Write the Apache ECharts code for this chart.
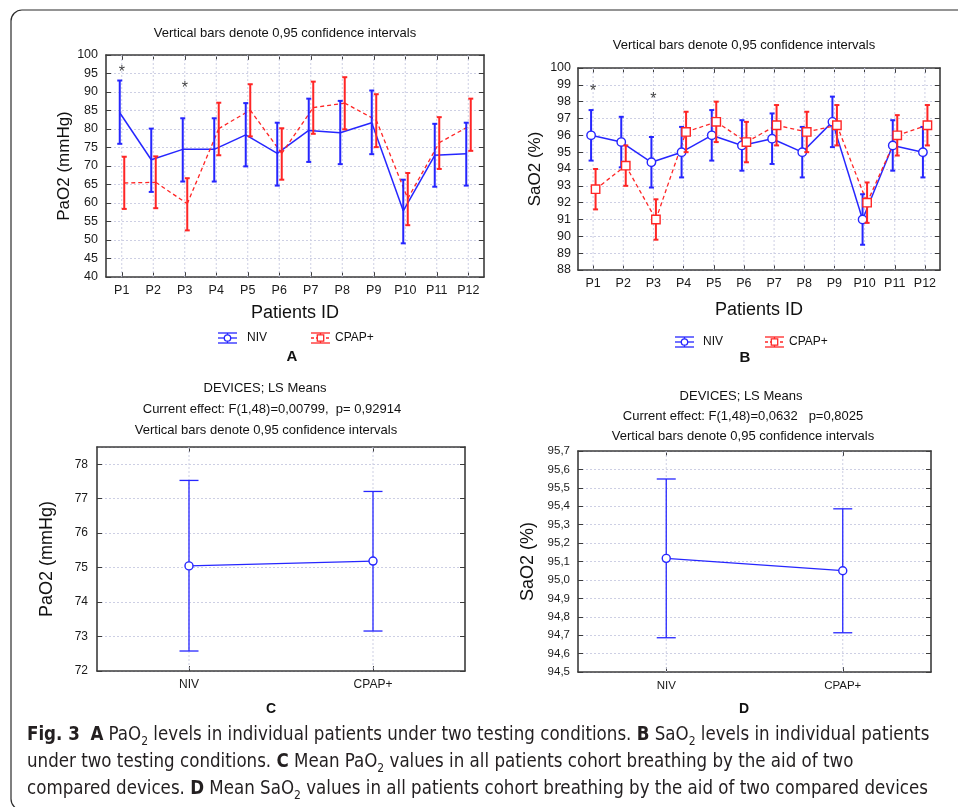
<!DOCTYPE html>
<html><head><meta charset="utf-8">
<script src="https://cdn.jsdelivr.net/npm/echarts@6/dist/echarts.min.js"></script>
<style>html,body{margin:0;padding:0;background:#fff}#c{width:958px;height:807px}</style>
</head><body><div id="c"></div>
<script>
// ---------------- DATA ----------------
const patients = ['P1','P2','P3','P4','P5','P6','P7','P8','P9','P10','P11','P12'];
const devices = ['NIV','CPAP+'];

const paoNivMean  = [84.4,71.7,74.5,74.5,78.4,73.4,79.6,79.0,81.7,57.9,72.9,73.3];
const paoNivLow   = [76.0,63.0,65.8,65.8,69.9,64.7,71.1,70.5,73.2,49.1,64.4,64.7];
const paoNivHigh  = [93.1,80.1,82.9,82.9,87.0,81.7,88.2,87.6,90.4,66.3,81.4,81.7];
const paoCpapMean = [65.4,65.6,59.8,80.1,85.1,73.4,85.8,87.0,82.4,61.2,76.3,81.0];
const paoCpapLow  = [58.4,58.6,52.6,72.9,78.0,66.3,78.7,79.9,75.1,54.0,69.2,74.1];
const paoCpapHigh = [72.5,72.6,66.7,87.1,92.1,80.2,92.8,94.0,89.4,68.1,83.2,88.2];

const saoNivMean  = [96.0,95.6,94.4,95.0,96.0,95.4,95.8,95.0,96.8,91.0,95.4,95.0];
const saoNivLow   = [94.5,94.1,92.9,93.5,94.5,93.9,94.3,93.5,95.3,89.5,93.9,93.5];
const saoNivHigh  = [97.5,97.1,95.9,96.5,97.5,96.9,97.3,96.5,98.3,92.5,96.9,96.5];
const saoCpapMean = [92.8,94.2,91.0,96.2,96.8,95.6,96.6,96.2,96.6,92.0,96.0,96.6];
const saoCpapLow  = [91.6,93.0,89.8,95.0,95.6,94.4,95.4,95.0,95.4,90.8,94.8,95.4];
const saoCpapHigh = [94.0,95.4,92.2,97.4,98.0,96.8,97.8,97.4,97.8,93.2,97.2,97.8];

const paoStars = [['P1',95.2],['P3',91.0]];
const saoStars = [['P1',98.6],['P3',98.1]];

const paoDevMean = [75.05,75.19];
const paoDevLow  = [72.58,73.16];
const paoDevHigh = [77.53,77.21];
const saoDevMean = [95.117,95.050];
const saoDevLow  = [94.686,94.713];
const saoDevHigh = [95.548,95.386];

// ---------------- STYLE ----------------
const BLUE = '#2626ff', RED = '#ff2626';
const FONT = "'Liberation Sans', Arial, sans-serif";
const FRAME = '#3c3c3c';
const GRIDC = '#cdcfe4';

function axesFor(g, cats, ymin, ymax, step, labFont, fmt, xMargin, yMargin, yName, yGap, xName, xGap, nameSize) {
  const common = {gridIndex:g};
  const xs = [
    Object.assign({}, common, {type:'category', data:cats, position:'bottom', boundaryGap:true,
      axisLine:{show:true, onZero:false, lineStyle:{color:FRAME, width:1.6}},
      axisTick:{show:true, inside:true, alignWithLabel:true, length:5, lineStyle:{color:FRAME, width:1}},
      axisLabel:{show:true, color:'#1a1a1a', fontFamily:FONT, fontSize:labFont, margin:xMargin},
      splitLine:{show:false},
      name:xName||'', nameLocation:'middle', nameGap:xGap||0,
      nameTextStyle:{fontFamily:FONT, fontSize:18, color:'#111'}}),
    Object.assign({}, common, {type:'category', data:cats, position:'top', boundaryGap:true,
      axisLine:{show:true, onZero:false, lineStyle:{color:FRAME, width:1.6}},
      axisTick:{show:true, inside:true, alignWithLabel:true, length:5, lineStyle:{color:FRAME, width:1}},
      axisLabel:{show:false}, splitLine:{show:false}})
  ];
  const ys = [
    Object.assign({}, common, {type:'value', min:ymin, max:ymax, interval:step, position:'left',
      axisLine:{show:true, onZero:false, lineStyle:{color:FRAME, width:1.6}},
      axisTick:{show:true, inside:true, length:5, lineStyle:{color:FRAME, width:1}},
      axisLabel:{show:true, color:'#1a1a1a', fontFamily:FONT, fontSize:labFont, margin:yMargin, formatter:fmt, showMaxLabel: fmt.hideMax ? false : null},
      splitLine:{show:true, lineStyle:{color:GRIDC, width:1, type:[2,2]}},
      name:yName, nameLocation:'middle', nameGap:yGap, nameRotate:90,
      nameTextStyle:{fontFamily:FONT, fontSize:nameSize, color:'#111'}}),
    Object.assign({}, common, {type:'value', min:ymin, max:ymax, interval:step, position:'right',
      axisLine:{show:true, onZero:false, lineStyle:{color:FRAME, width:1.6}},
      axisTick:{show:true, inside:true, length:5, lineStyle:{color:FRAME, width:1}},
      axisLabel:{show:false}, splitLine:{show:false}})
  ];
  return {xs, ys};
}

function vGridSeries(xi, yi, cats) {
  return {type:'custom', xAxisIndex:xi, yAxisIndex:yi, z:1, silent:true,
    data: cats.map((c,i)=>[i, 0]),
    renderItem(params, api) {
      const cs = params.coordSys;
      const x = api.coord([api.value(0), 0])[0];
      return {type:'line', shape:{x1:x, y1:cs.y, x2:x, y2:cs.y+cs.height},
        style:{stroke:GRIDC, lineWidth:1, lineDash:[2,2]}};
    }};
}

function lineSeries(xi, yi, means, color, dashed, offset, width) {
  return {type:'custom', xAxisIndex:xi, yAxisIndex:yi, z:3, silent:true,
    data: means.map((m,i)=>[i, m, i>0 ? means[i-1] : m]),
    encode:{x:0, y:1},
    renderItem(params, api) {
      const i = api.value(0);
      if (i === 0) return {type:'group', children:[]};
      const p = api.coord([i, api.value(1)]);
      const q = api.coord([i-1, api.value(2)]);
      return {type:'line', shape:{x1:q[0]+offset, y1:q[1], x2:p[0]+offset, y2:p[1]},
        style:{stroke:color, lineWidth:width, lineDash: dashed ? [4,3] : null}};
    }};
}

function errSeries(xi, yi, means, lows, highs, color, o) {
  return {type:'custom', xAxisIndex:xi, yAxisIndex:yi, z:o.z||5, silent:true,
    data: means.map((m,i)=>[i, m, lows[i], highs[i]]),
    encode:{x:0, y:1},
    renderItem(params, api) {
      const i = api.value(0);
      const c = api.coord([i, api.value(1)]);
      const lo = api.coord([i, api.value(2)]);
      const hi = api.coord([i, api.value(3)]);
      const x = c[0] + o.offset, cw = o.cap/2;
      const ls = {stroke:color, lineWidth:o.bw};
      const ch = [
        {type:'line', shape:{x1:x, y1:hi[1], x2:x, y2:lo[1]}, style:ls},
        {type:'line', shape:{x1:x-cw, y1:hi[1], x2:x+cw, y2:hi[1]}, style:ls},
        {type:'line', shape:{x1:x-cw, y1:lo[1], x2:x+cw, y2:lo[1]}, style:ls}
      ];
      if (o.marker === 'circle') ch.push({type:'circle', shape:{cx:x, cy:c[1], r:o.r}, style:{fill:'#fff', stroke:color, lineWidth:1.4}});
      if (o.marker === 'square') ch.push({type:'rect', shape:{x:x-o.r, y:c[1]-o.r, width:2*o.r, height:2*o.r}, style:{fill:'#fff', stroke:color, lineWidth:1.4}});
      return {type:'group', children:ch};
    }};
}

function starSeries(xi, yi, pts) {
  return {type:'scatter', xAxisIndex:xi, yAxisIndex:yi, z:6, silent:true, data:pts,
    symbolSize:1, itemStyle:{color:'rgba(0,0,0,0)'},
    label:{show:true, position:'inside', formatter:'*', fontFamily:FONT, fontSize:16, color:'#111'}};
}

function legendIcon(x, y, color, dashed, shape) {
  const ls = {stroke:color, lineWidth:1.3};
  const ch = [
    {type:'line', shape:{x1:x, y1:y-5, x2:x+19, y2:y-5}, style:ls},
    {type:'line', shape:{x1:x, y1:y+5, x2:x+19, y2:y+5}, style:ls},
    {type:'line', shape:{x1:x, y1:y, x2:x+19, y2:y}, style:Object.assign({lineDash: dashed?[3,2]:null}, ls)},
    {type:'line', shape:{x1:x+9.5, y1:y-5, x2:x+9.5, y2:y+5}, style:ls}
  ];
  if (shape === 'circle') ch.push({type:'circle', shape:{cx:x+9.5, cy:y, r:3.2}, style:{fill:'#fff', stroke:color, lineWidth:1.3}});
  else ch.push({type:'rect', shape:{x:x+6.3, y:y-3.2, width:6.4, height:6.4}, style:{fill:'#fff', stroke:color, lineWidth:1.3}});
  return {type:'group', children:ch};
}

function txt(x, y, s, size, opts) {
  opts = opts || {};
  return {type:'text', x:x, y:y, silent:true, style:{text:s, fill:opts.color||'#111',
    font:(opts.bold?'bold ':'') + size + 'px ' + (opts.family||FONT),
    align:opts.align||'center', verticalAlign:'middle'}};
}

// ---------------- BUILD ----------------
const intFmt = v => String(Math.round(v));
const intFmtHide = v => String(Math.round(v)); intFmtHide.hideMax = true;
const commaFmt = v => v.toFixed(1).replace('.', ',');

const A = axesFor(0, patients, 40, 100, 5, 12.5, intFmt, 7, 8, 'PaO2 (mmHg)', 33, 'Patients ID', 27, 17);
const B = axesFor(1, patients, 88, 100, 1, 12.5, intFmt, 7, 7, 'SaO2 (%)', 34, 'Patients ID', 31, 17);
const C = axesFor(2, devices, 72, 78.5, 1, 12, intFmtHide, 8, 9, 'PaO2 (mmHg)', 41, '', 0, 18);
const D = axesFor(3, devices, 94.5, 95.7, 0.1, 11.5, commaFmt, 8, 8, 'SaO2 (%)', 41, '', 0, 18);

const xAxis = [].concat(A.xs, B.xs, C.xs, D.xs);
const yAxis = [].concat(A.ys, B.ys, C.ys, D.ys);

const series = [
  vGridSeries(0, 0, patients), vGridSeries(2, 2, patients), vGridSeries(4, 4, devices), vGridSeries(6, 6, devices),
  // A
  lineSeries(0, 0, paoNivMean, BLUE, false, -2, 1.5),
  lineSeries(0, 0, paoCpapMean, RED, true, 2.5, 1.3),
  errSeries(0, 0, paoNivMean, paoNivLow, paoNivHigh, BLUE, {offset:-2, cap:5, bw:2, marker:'none'}),
  errSeries(0, 0, paoCpapMean, paoCpapLow, paoCpapHigh, RED, {offset:2.5, cap:5, bw:2, marker:'none'}),
  starSeries(0, 0, paoStars),
  // B
  lineSeries(2, 2, saoNivMean, BLUE, false, -2, 1.5),
  lineSeries(2, 2, saoCpapMean, RED, true, 2.5, 1.3),
  errSeries(2, 2, saoNivMean, saoNivLow, saoNivHigh, BLUE, {offset:-2, cap:5, bw:2, marker:'circle', r:4.2}),
  errSeries(2, 2, saoCpapMean, saoCpapLow, saoCpapHigh, RED, {offset:2.5, cap:5, bw:2, marker:'square', r:4.2, z:6}),
  starSeries(2, 2, saoStars),
  // C
  lineSeries(4, 4, paoDevMean, BLUE, false, 0, 1.3),
  errSeries(4, 4, paoDevMean, paoDevLow, paoDevHigh, BLUE, {offset:0, cap:19, bw:1.3, marker:'circle', r:4}),
  // D
  lineSeries(6, 6, saoDevMean, BLUE, false, 0, 1.3),
  errSeries(6, 6, saoDevMean, saoDevLow, saoDevHigh, BLUE, {offset:0, cap:19, bw:1.3, marker:'circle', r:4})
];

// caption with auto-fit font size
const CAP_FAMILY = "'Liberation Sans Narrow', 'DejaVu Sans Condensed', 'Liberation Sans', sans-serif";
const capLines = [
  ['{b|Fig. 3}  {b|A} PaO{s|2} levels in individual patients under two testing conditions. {b|B} SaO{s|2} levels in individual patients',
   'Fig. 3  A PaO2 levels in individual patients under two testing conditions. B SaO2 levels in individual patients'],
  ['under two testing conditions. {b|C} Mean PaO{s|2} values in all patients cohort breathing by the aid of two', ''],
  ['compared devices. {b|D} Mean SaO{s|2} values in all patients cohort breathing by the aid of two compared devices', '']
];
const cv = document.createElement('canvas').getContext('2d');
cv.font = '20px ' + CAP_FAMILY;
const w1 = cv.measureText(capLines[0][1]).width;
let capSize = Math.max(14, Math.min(24, 20 * 900 / w1));
const subSize = Math.round(capSize * 0.65);
function capText(y, s) {
  return {type:'text', x:27, y:y, silent:true, style:{text:s, fill:'#231f20',
    font: capSize + 'px ' + CAP_FAMILY, align:'left', verticalAlign:'middle',
    rich:{
      b:{fontWeight:'bold', fontSize:capSize, fontFamily:CAP_FAMILY, fill:'#231f20', lineHeight:26},
      s:{fontSize:subSize, fontFamily:CAP_FAMILY, fill:'#231f20', verticalAlign:'bottom'}
    }}};
}

const graphic = [
  {type:'rect', silent:true, shape:{x:11, y:10, width:1000, height:800, r:11}, style:{fill:'none', stroke:'#2b2b2b', lineWidth:1.2}},
  txt(285, 33, 'Vertical bars denote 0,95 confidence intervals', 13),
  txt(744, 45, 'Vertical bars denote 0,95 confidence intervals', 13),
  legendIcon(218, 338, BLUE, false, 'circle'), txt(247, 338, 'NIV', 12, {align:'left'}),
  legendIcon(311, 338, RED, true, 'square'), txt(335, 338, 'CPAP+', 12, {align:'left'}),
  txt(292, 357, 'A', 15, {bold:true}),
  legendIcon(675, 342, BLUE, false, 'circle'), txt(703, 342, 'NIV', 12, {align:'left'}),
  legendIcon(765, 342, RED, true, 'square'), txt(789, 342, 'CPAP+', 12, {align:'left'}),
  txt(745, 358, 'B', 15, {bold:true}),
  txt(265, 388, 'DEVICES; LS Means', 13),
  txt(272, 409, 'Current effect: F(1,48)=0,00799,  p= 0,92914', 13),
  txt(266, 430, 'Vertical bars denote 0,95 confidence intervals', 13),
  txt(271, 709, 'C', 14, {bold:true}),
  txt(741, 396, 'DEVICES; LS Means', 13),
  txt(743, 416, 'Current effect: F(1,48)=0,0632   p=0,8025', 13),
  txt(743, 436, 'Vertical bars denote 0,95 confidence intervals', 13),
  txt(744, 709, 'D', 14, {bold:true}),
  capText(735, capLines[0][0]),
  capText(762, capLines[1][0]),
  capText(789, capLines[2][0])
];

const chart = echarts.init(document.getElementById('c'), null, {renderer:'canvas'});
chart.setOption({
  animation:false,
  backgroundColor:'#fff',
  grid:[
    {left:106, top:55, width:378, height:222},
    {left:578, top:68, width:362, height:202},
    {left:97, top:447, width:368, height:224},
    {left:578, top:451, width:353, height:221}
  ],
  xAxis, yAxis, series, graphic
});
</script></body></html>
